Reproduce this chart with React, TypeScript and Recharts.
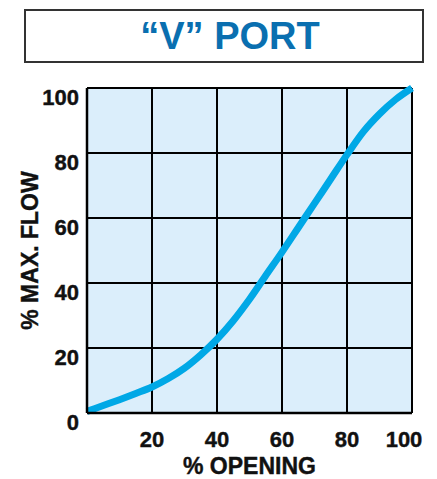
import React from "react";
import { LineChart, Line, XAxis, YAxis, CartesianGrid, Label } from "recharts";

const opening = [0, 5, 10, 15, 20, 25, 30, 35, 40, 45, 50, 55, 60, 65, 70, 75, 80, 85, 90, 95, 100];
const maxFlow = [0.5, 2.3, 4.1, 6, 8, 10.6, 13.8, 17.9, 22.7, 28.4, 35, 42.3, 49.5, 57, 64.5, 72, 79.5, 86.5, 92, 96.5, 100];
const xTicks = [0, 20, 40, 60, 80, 100];
const yTicks = [0, 20, 40, 60, 80, 100];
const titleText = "\u201CV\u201D PORT";
const xLabel = "% OPENING";
const yLabel = "% MAX. FLOW";

const data = opening.map((o, i) => ({ opening: o, flow: maxFlow[i] }));

const FONT = '"Liberation Sans", Arial, Helvetica, sans-serif';

const textStyle = {
  fontFamily: FONT,
  fontWeight: "bold" as const,
  fontSize: 22,
  fill: "#111",
  stroke: "#111",
  strokeWidth: 0.4,
};

const labelStyle = { ...textStyle, fontSize: 23 };

const XTick = (props: any) => {
  const { x, y, payload } = props;
  if (payload.value === 0) return null;
  const dx = payload.value === 100 ? -8 : 0;
  return (
    <text x={x + dx} y={y + 18} textAnchor="middle" dominantBaseline="central" {...textStyle}>
      {payload.value}
    </text>
  );
};

const YTick = (props: any) => {
  const { x, y, payload } = props;
  return (
    <text x={x} y={y + 9} textAnchor="end" dominantBaseline="central" {...textStyle}>
      {payload.value}
    </text>
  );
};

const YLabelContent = (props: any) => {
  const vb = props.viewBox || {};
  const cx = vb.x + 30;
  const cy = vb.y + vb.height / 2;
  return (
    <text x={cx} y={cy} transform={`rotate(-90 ${cx} ${cy})`} textAnchor="middle"
      dominantBaseline="central" {...labelStyle}>
      {yLabel}
    </text>
  );
};

const XLabelContent = (props: any) => {
  const vb = props.viewBox || {};
  const cx = vb.x + vb.width / 2;
  const cy = vb.y + 53;
  return (
    <text x={cx} y={cy} textAnchor="middle" dominantBaseline="central" {...labelStyle}>
      {xLabel}
    </text>
  );
};

export default function App() {
  return (
    <div style={{ position: "absolute", left: 0, top: 0, width: 437, height: 479, background: "#fff" }}>
      <div
        style={{
          position: "absolute",
          left: 24,
          top: 9,
          width: 384,
          height: 50,
          border: "2px solid #333",
          display: "flex",
          alignItems: "center",
          justifyContent: "center",
          paddingLeft: 12,
          boxSizing: "content-box",
          fontFamily: FONT,
          fontWeight: "bold",
          fontSize: 38,
          color: "#0a6fb0",
        }}
      >
        {titleText}
      </div>
      <div style={{ position: "absolute", left: 0, top: 0 }}>
        <LineChart width={437} height={479} data={data} margin={{ top: 88, right: 25, bottom: 16, left: 0 }}>
          <CartesianGrid stroke="#000" strokeWidth={2} fill="#dbeefb" fillOpacity={1}
            horizontalValues={yTicks} verticalValues={xTicks} />
          <XAxis dataKey="opening" type="number" domain={[0, 100]} ticks={xTicks} height={50}
            tickLine={false} axisLine={{ stroke: "#000", strokeWidth: 2.5 }} tick={<XTick />} interval={0}>
            <Label content={<XLabelContent />} />
          </XAxis>
          <YAxis type="number" domain={[0, 100]} ticks={yTicks} width={87}
            tickLine={false} axisLine={{ stroke: "#000", strokeWidth: 2.5 }} tick={<YTick />} interval={0}>
            <Label content={<YLabelContent />} />
          </YAxis>
          <Line type="monotone" dataKey="flow" stroke="#00a8e6" strokeWidth={7} dot={false}
            isAnimationActive={false} />
        </LineChart>
      </div>
    </div>
  );
}
